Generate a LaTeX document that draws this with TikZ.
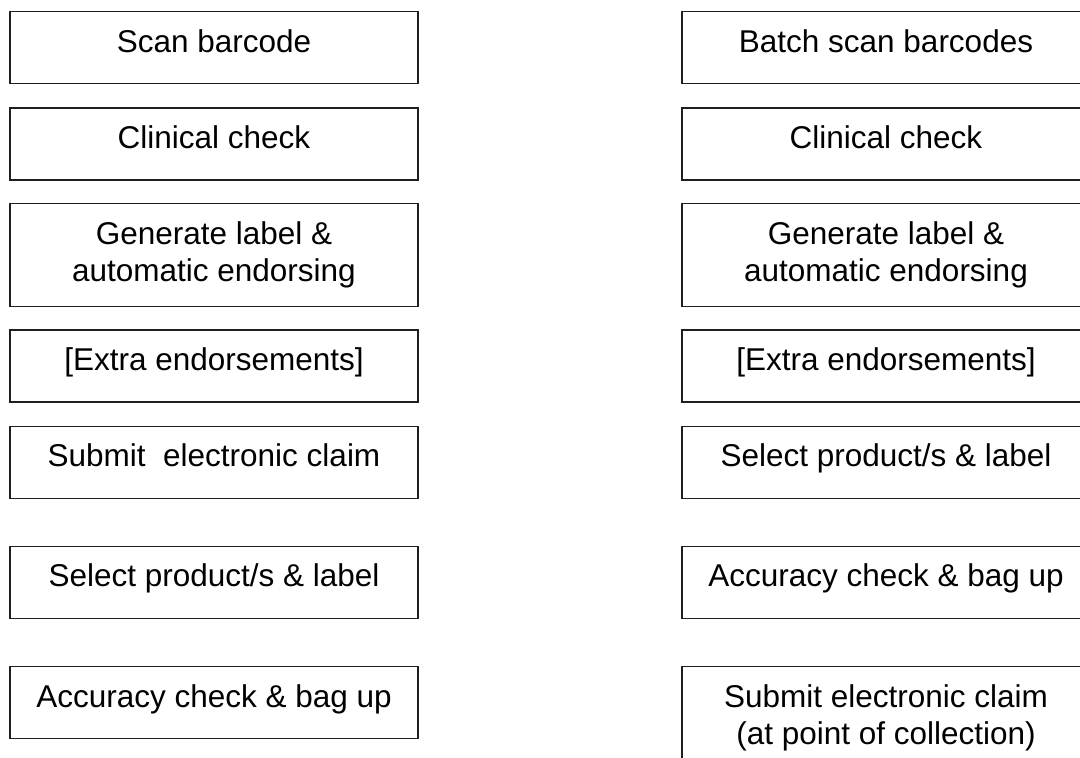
\documentclass[tikz,border=0pt]{standalone}
\usepackage{fontspec}
\setmainfont{Liberation Sans}
\begin{document}
\begin{tikzpicture}[x=1pt,y=-1pt,
  frame/.style={draw=black!88,line width=1.6pt,rectangle,minimum width=408pt,
    inner sep=0pt,align=center,font=\fontsize{31.5}{36.5}\selectfont},
  onerow/.style={frame,minimum height=72pt,text height=9pt,text depth=0pt},
  tworow/.style={frame,minimum height=103pt}]
\clip (0,0) rectangle (1080,758);
\fill[white] (0,0) rectangle (1080,758);
% single dispensing
\node[onerow] (l1) at (214,47.5)  {Scan barcode};
\node[onerow] (l2) at (214,143.7) {Clinical check};
\node[tworow] (l3) at (214,254.8) {Generate label \&\\automatic endorsing};
\node[onerow] (l4) at (214,366)   {[Extra endorsements]};
\node[onerow] (l5) at (214,462.3) {Submit\ \ electronic claim};
\node[onerow] (l6) at (214,582.3) {Select product/s \& label};
\node[onerow] (l7) at (214,702.5) {Accuracy check \& bag up};
% batch dispensing
\node[onerow] (r1) at (886,47.5)  {Batch scan barcodes};
\node[onerow] (r2) at (886,143.7) {Clinical check};
\node[tworow] (r3) at (886,254.8) {Generate label \&\\automatic endorsing};
\node[onerow] (r4) at (886,366)   {[Extra endorsements]};
\node[onerow] (r5) at (886,462.3) {Select product/s \& label};
\node[onerow] (r6) at (886,582.3) {Accuracy check \& bag up};
\node[tworow] (r7) at (886,717.8) {Submit electronic claim\\(at point of collection)};
\end{tikzpicture}
\end{document}
